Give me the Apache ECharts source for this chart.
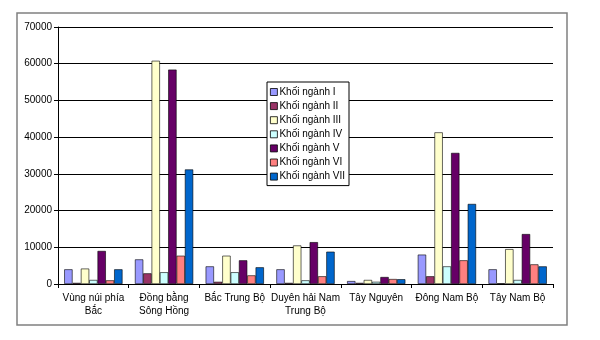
<!DOCTYPE html>
<html><head><meta charset="utf-8">
<script src="https://cdn.jsdelivr.net/npm/echarts@6/dist/echarts.min.js"></script>
<style>html,body{margin:0;padding:0;background:#fff}#c{width:600px;height:340px}</style>
</head><body><div id="c"></div>
<script>
const categories = ["Vùng núi phía\nBắc", "Đồng bằng\nSông Hồng", "Bắc Trung Bộ", "Duyên hải Nam\nTrung Bộ", "Tây Nguyên", "Đông Nam Bộ", "Tây Nam Bộ"];
const seriesNames = ["Khối ngành I", "Khối ngành II", "Khối ngành III", "Khối ngành IV", "Khối ngành V", "Khối ngành VI", "Khối ngành VII"];
const nganhI   = [4000, 6700, 4800, 4000, 800, 8000, 4000];
const nganhII  = [300, 2900, 600, 300, 300, 2100, 200];
const nganhIII = [4200, 60800, 7700, 10500, 1100, 41300, 9500];
const nganhIV  = [1100, 3200, 3200, 1000, 600, 4800, 1100];
const nganhV   = [9000, 58400, 6450, 11400, 1900, 35700, 13600];
const nganhVI  = [1000, 7700, 2350, 2100, 1350, 6450, 5350];
const nganhVII = [4000, 31200, 4550, 8800, 1300, 21800, 4800];
const colors = ["#9999FF", "#993366", "#FFFFCC", "#CCFFFF", "#660066", "#FF8080", "#0066CC"];
const yTicks = { min: 0, max: 70000, interval: 10000 };

const allData = [nganhI, nganhII, nganhIII, nganhIV, nganhV, nganhVI, nganhVII];
const font = '"Liberation Sans", Arial, sans-serif';
const chart = echarts.init(document.getElementById('c'), null, { renderer: 'canvas' });
chart.setOption({
  animation: false,
  backgroundColor: '#fff',
  textStyle: { fontFamily: font },
  graphic: [{
    type: 'rect', shape: { x: 17, y: 13, width: 550, height: 312 },
    style: { fill: 'none', stroke: '#808080', lineWidth: 1.5 }, z: -1
  }],
  grid: { left: 58, right: 47, top: 27, bottom: 56, containLabel: false },
  legend: {
    orient: 'vertical', left: 267, top: 82,
    itemWidth: 7, itemHeight: 7, itemGap: 4.1,
    padding: [5, 4, 4, 3],
    backgroundColor: '#fff', borderColor: '#000', borderWidth: 1,
    icon: 'rect',
    itemStyle: { borderColor: '#000', borderWidth: 0.8 },
    textStyle: { fontFamily: font, fontSize: 10, color: '#000', padding: [0, 0, 0, -3] },
    data: seriesNames
  },
  xAxis: {
    type: 'category', data: categories,
    axisLine: { lineStyle: { color: '#000', width: 1 } },
    axisTick: { show: true, length: 4, lineStyle: { color: '#000' } },
    axisLabel: { interval: 0, fontSize: 10, color: '#000', lineHeight: 13, margin: 8, fontFamily: font }
  },
  yAxis: {
    type: 'value', min: yTicks.min, max: yTicks.max, interval: yTicks.interval,
    axisLine: { show: true, lineStyle: { color: '#000', width: 1 } },
    axisTick: { show: true, length: 4, lineStyle: { color: '#000' } },
    splitLine: { lineStyle: { color: '#000', width: 1 } },
    axisLabel: { fontSize: 10, color: '#000', margin: 6, fontFamily: font, formatter: v => String(v) }
  },
  series: allData.map((d, i) => ({
    name: seriesNames[i], type: 'bar', data: d,
    barGap: '0%', barCategoryGap: '17.6%',
    itemStyle: { color: colors[i], borderColor: '#000', borderWidth: 0.6 }
  }))
});
</script></body></html>
